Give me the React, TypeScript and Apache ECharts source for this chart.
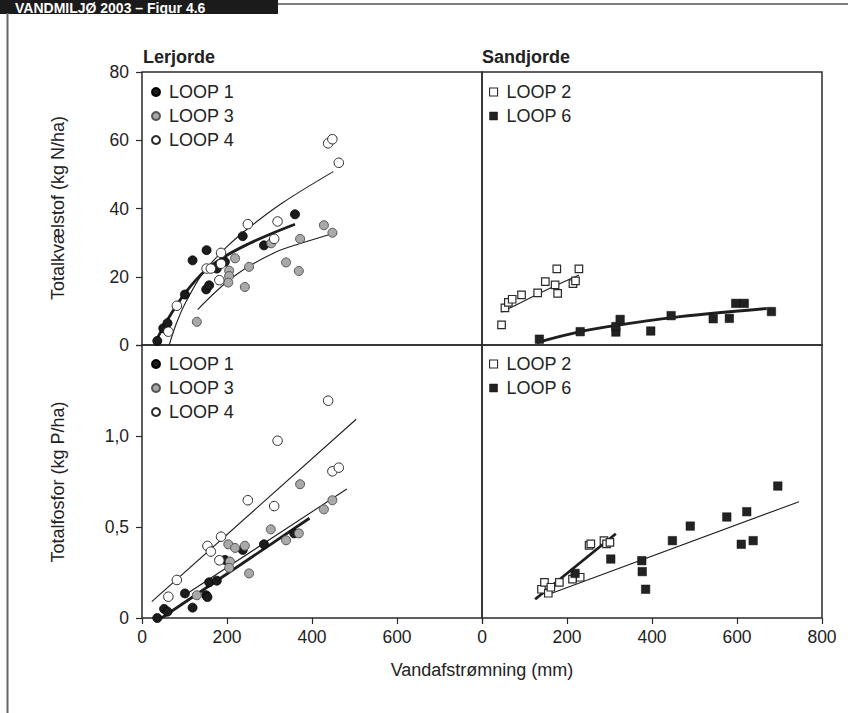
import React, { useEffect, useRef } from "react";
import * as echarts from "echarts";

// ---------- data (x = Vandafstrømning mm) ----------
// Nitrogen panel (kg N/ha)
const loop1N = [[36, 1.2], [50, 4.9], [60, 6.4], [101, 14.8], [119, 24.8], [152, 27.8], [151, 16.3], [158, 17.5], [176, 22.4], [195, 24.4], [237, 31.9], [287, 29.2], [360, 38.3]];
const loop3N = [[129, 6.8], [205, 21.8], [205, 20.2], [203, 18.3], [219, 25.4], [252, 22.9], [242, 17.0], [304, 29.8], [339, 24.2], [372, 31.1], [369, 21.7], [428, 35.1], [448, 32.9]];
const loop4N = [[62, 3.9], [82, 11.5], [152, 22.4], [162, 22.4], [186, 27.0], [186, 23.8], [182, 19.0], [249, 35.4], [311, 31.1], [319, 36.2], [438, 59.1], [448, 60.3], [463, 53.4]];
const loop2N = [[46, 5.9], [54, 10.9], [62, 12.5], [71, 13.4], [93, 14.7], [131, 15.3], [149, 18.6], [172, 17.6], [178, 15.1], [176, 22.3], [214, 18.0], [220, 18.8], [228, 22.3]];
const loop6N = [[135, 1.7], [231, 3.9], [315, 3.8], [315, 5.4], [325, 7.5], [397, 4.1], [445, 8.6], [544, 7.7], [582, 7.8], [597, 12.2], [617, 12.2], [681, 9.8]];

// Phosphorus panel (kg P/ha)
const loop1P = [[36, 0.0], [52, 0.05], [60, 0.035], [101, 0.135], [119, 0.057], [151, 0.125], [154, 0.115], [158, 0.196], [176, 0.205], [195, 0.319], [237, 0.374], [287, 0.405], [358, 0.465]];
const loop3P = [[129, 0.125], [203, 0.405], [207, 0.31], [205, 0.276], [219, 0.385], [242, 0.397], [252, 0.245], [303, 0.487], [339, 0.427], [372, 0.735], [369, 0.465], [428, 0.597], [448, 0.647]];
const loop4P = [[62, 0.117], [82, 0.209], [154, 0.396], [162, 0.365], [186, 0.447], [182, 0.317], [249, 0.647], [311, 0.615], [319, 0.974], [438, 1.194], [448, 0.806], [463, 0.826]];
const loop2P = [[140, 0.158], [147, 0.196], [156, 0.136], [162, 0.169], [182, 0.196], [213, 0.214], [231, 0.224], [252, 0.399], [256, 0.407], [287, 0.425], [293, 0.407], [301, 0.416]];
const loop6P = [[219, 0.245], [303, 0.324], [376, 0.315], [377, 0.255], [385, 0.158], [448, 0.425], [490, 0.505], [576, 0.555], [610, 0.405], [623, 0.584], [638, 0.425], [696, 0.725]];

// Fitted curves
const fit1N = [[30, 0.5], [58, 7.0], [100, 15.0], [150, 22.0], [200, 26.3], [250, 29.6], [300, 32.4], [360, 35.4]];
const fit3N = [[131, 10.4], [215, 20.0], [309, 26.9], [387, 30.3], [450, 32.7]];
const fit4N = [[64, 0], [80, 6], [100, 11.8], [144, 21.2], [200, 28.8], [250, 34.2], [330, 41.6], [450, 50.8]];
const fit2N = [[46, 9.6], [100, 13.0], [160, 16.6], [228, 20.5]];
const fit6N = [[129, 0.7], [231, 3.9], [325, 5.9], [466, 8.3], [670, 10.7]];
const fit1P = [[46, 0], [394, 0.548]];
const fit3P = [[110, 0.14], [482, 0.709]];
const fit4P = [[23, 0.09], [504, 1.092]];
const fit2P = [[125, 0.103], [315, 0.463]];
const fit6P = [[164, 0.136], [746, 0.639]];

// Axis ticks
const xTicks = [0, 200, 400, 600, 800];
const yTicksN = [0, 20, 40, 60, 80];
const yTicksP = [0, 0.5, 1.0, 1.5];

const legendClay = ["LOOP 1", "LOOP 3", "LOOP 4"];
const legendSand = ["LOOP 2", "LOOP 6"];

const FONT = "'Liberation Sans', Arial, Helvetica, sans-serif";
const INK = "#222";
const SQUARE_ICON = "path://M0,0H10V10H0Z";

const markerStyle: Record<string, any> = {
  "LOOP 1": { symbol: "circle", symbolSize: 9, itemStyle: { color: "#1c1c1c", borderColor: "#000", borderWidth: 0.8, opacity: 1 } },
  "LOOP 3": { symbol: "circle", symbolSize: 9, itemStyle: { color: "#a9a9a9", borderColor: "#555", borderWidth: 1, opacity: 1 } },
  "LOOP 4": { symbol: "circle", symbolSize: 9.5, itemStyle: { color: "#fff", borderColor: "#2a2a2a", borderWidth: 1, opacity: 1 } },
  "LOOP 2": { symbol: "rect", symbolSize: 7.5, itemStyle: { color: "#fff", borderColor: "#2a2a2a", borderWidth: 1.2, opacity: 1 } },
  "LOOP 6": { symbol: "rect", symbolSize: 8.5, itemStyle: { color: "#222", borderColor: "#111", borderWidth: 0.5, opacity: 1 } },
};

function App() {
  const ref = useRef<HTMLDivElement>(null);

  useEffect(() => {
    if (!ref.current) return;
    const chart = echarts.init(ref.current, null, { renderer: "svg" });

    const gridRects = [
      { left: 142, top: 72, width: 340, height: 273 },
      { left: 482, top: 72, width: 340, height: 273 },
      { left: 142, top: 345, width: 340, height: 273 },
      { left: 482, top: 345, width: 340, height: 273 },
    ];
    const grid = gridRects.map((g) => ({
      ...g,
      show: true,
      borderColor: "#2b2b2b",
      borderWidth: 1.5,
      backgroundColor: "transparent",
      containLabel: false,
    }));

    const xAxis = [0, 1, 2, 3].map((i) => {
      const bottom = i >= 2;
      return {
        type: "value",
        gridIndex: i,
        min: xTicks[0],
        max: xTicks[xTicks.length - 1],
        interval: xTicks[1] - xTicks[0],
        axisLine: { show: false },
        splitLine: { show: false },
        axisTick: { show: bottom, inside: false, length: 6, lineStyle: { color: "#2b2b2b", width: 1.2 } },
        axisLabel: {
          show: bottom,
          margin: 10,
          fontSize: 17.5,
          fontFamily: FONT,
          color: INK,
          formatter: (v: number) => (i === 2 && v === xTicks[xTicks.length - 1] ? "" : String(v)),
        },
      };
    });

    const yAxis = [0, 1, 2, 3].map((i) => {
      const left = i % 2 === 0;
      const ticks = i < 2 ? yTicksN : yTicksP;
      return {
        type: "value",
        gridIndex: i,
        min: ticks[0],
        max: ticks[ticks.length - 1],
        interval: ticks[1] - ticks[0],
        axisLine: { show: false },
        splitLine: { show: false },
        axisTick: { show: left, inside: false, length: 6, lineStyle: { color: "#2b2b2b", width: 1.2 } },
        axisLabel: {
          show: left,
          margin: 13,
          fontSize: 17.5,
          fontFamily: FONT,
          color: INK,
          formatter: (v: number) => {
            if (i < 2) return String(v);
            if (v === ticks[ticks.length - 1]) return "";
            if (v === 0) return "0";
            return v.toFixed(1).replace(".", ",");
          },
        },
      };
    });

    const scatter = (name: string, data: number[][], idx: number) => ({
      name,
      type: "scatter",
      xAxisIndex: idx,
      yAxisIndex: idx,
      data,
      z: 3,
      silent: true,
      ...markerStyle[name],
    });
    const fit = (id: string, data: number[][], idx: number, thick: boolean, smooth: boolean | number) => ({
      name: id,
      type: "line",
      xAxisIndex: idx,
      yAxisIndex: idx,
      data,
      smooth,
      showSymbol: false,
      symbol: "none",
      silent: true,
      z: 2,
      lineStyle: { color: "#1e1e1e", width: thick ? 2.8 : 1.1 },
    });

    const series = [
      fit("fit1N", fit1N, 0, true, 0.35),
      fit("fit3N", fit3N, 0, false, 0.35),
      fit("fit4N", fit4N, 0, false, 0.35),
      scatter("LOOP 1", loop1N, 0),
      scatter("LOOP 3", loop3N, 0),
      scatter("LOOP 4", loop4N, 0),
      fit("fit2N", fit2N, 1, false, 0.35),
      fit("fit6N", fit6N, 1, true, 0.35),
      scatter("LOOP 2", loop2N, 1),
      scatter("LOOP 6", loop6N, 1),
      fit("fit1P", fit1P, 2, true, false),
      fit("fit3P", fit3P, 2, false, false),
      fit("fit4P", fit4P, 2, false, false),
      scatter("LOOP 1", loop1P, 2),
      scatter("LOOP 3", loop3P, 2),
      scatter("LOOP 4", loop4P, 2),
      fit("fit2P", fit2P, 3, true, false),
      fit("fit6P", fit6P, 3, false, false),
      scatter("LOOP 2", loop2P, 3),
      scatter("LOOP 6", loop6P, 3),
    ];

    const legendBase = {
      orient: "vertical",
      itemWidth: 16,
      itemHeight: 8,
      itemGap: 6,
      selectedMode: false,
      padding: 0,
      symbolKeepAspect: true,
      textStyle: { fontSize: 18, lineHeight: 17, fontFamily: FONT, color: INK },
    };
    const sandItems = () =>
      legendSand.map((n) => ({
        name: n,
        icon: SQUARE_ICON,
        itemStyle: n === "LOOP 2"
          ? { color: "#fff", borderColor: "#2a2a2a", borderWidth: 1.1, opacity: 1 }
          : { color: "#222", borderColor: "#111", borderWidth: 0.5, opacity: 1 },
      }));
    const legend = [
      { ...legendBase, left: 151, top: 83, data: legendClay.map((n) => ({ name: n, icon: "circle" })) },
      { ...legendBase, left: 489, top: 83, data: sandItems() },
      { ...legendBase, left: 151, top: 355, data: legendClay.map((n) => ({ name: n, icon: "circle" })) },
      { ...legendBase, left: 489, top: 355, data: sandItems() },
    ];

    const txt = (text: string, x: number, y: number, opts: any = {}) => ({
      type: "text",
      x,
      y,
      rotation: opts.rotation || 0,
      silent: true,
      style: {
        text,
        fill: opts.fill || INK,
        fontSize: opts.fontSize || 18,
        fontWeight: opts.fontWeight || "normal",
        fontFamily: FONT,
        align: opts.align || "left",
        verticalAlign: opts.verticalAlign || "middle",
        textAlign: opts.align || "left",
        textVerticalAlign: opts.verticalAlign || "middle",
      },
    });

    const graphic = [
      { type: "rect", silent: true, shape: { x: 0, y: 0, width: 278, height: 14 }, style: { fill: "#1b1b1b" } },
      txt("VANDMILJØ 2003 – Figur 4.6", 15, 7.5, { fill: "#fff", fontWeight: "bold", fontSize: 14 }),
      { type: "line", silent: true, shape: { x1: 278, y1: 4, x2: 848, y2: 4 }, style: { stroke: "#555", lineWidth: 1.6 } },
      { type: "line", silent: true, shape: { x1: 7.5, y1: 13, x2: 7.5, y2: 713 }, style: { stroke: "#666", lineWidth: 2 } },
      txt("Lerjorde", 143, 57, { fontWeight: "bold" }),
      txt("Sandjorde", 482, 57, { fontWeight: "bold" }),
      txt("Totalkvælstof (kg N/ha)", 58, 208, { align: "center", rotation: Math.PI / 2 }),
      txt("Totalfosfor (kg P/ha)", 58, 482, { align: "center", rotation: Math.PI / 2 }),
      txt("Vandafstrømning (mm)", 482, 670, { align: "center" }),
    ];

    chart.setOption({
      animation: false,
      backgroundColor: "#fff",
      grid,
      xAxis,
      yAxis,
      legend,
      series,
      graphic,
    });

    return () => chart.dispose();
  }, []);

  return (
    <div
      ref={ref}
      style={{ position: "fixed", left: 0, top: 0, width: 848, height: 713, background: "#fff" }}
    />
  );
}

export default App;
